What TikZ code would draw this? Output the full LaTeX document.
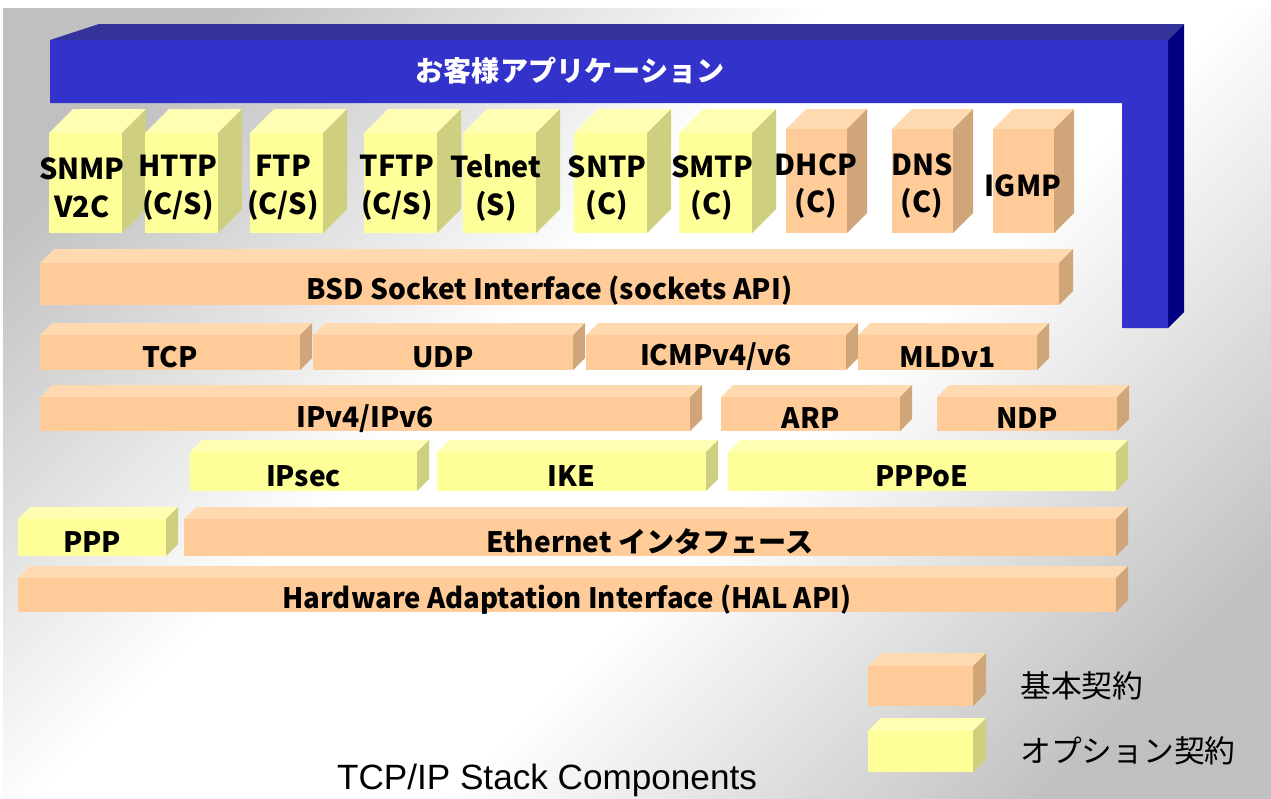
\documentclass[tikz,border=0pt]{standalone}
\usepackage{fontspec}
\setmainfont{Noto Sans CJK JP}
\newfontfamily\captionfont{Liberation Sans}
\usepackage{tikz}

\definecolor{basefront}{HTML}{FFCC99}
\definecolor{basetop}{HTML}{FFD9B0}
\definecolor{baseside}{HTML}{D1A57A}
\definecolor{optfront}{HTML}{FFFF99}
\definecolor{opttop}{HTML}{FFFFB3}
\definecolor{optside}{HTML}{CFCF80}
\definecolor{appfront}{HTML}{3333CC}
\definecolor{apptop}{HTML}{333399}
\definecolor{appside}{HTML}{000080}
\definecolor{bgedge}{HTML}{C0C0C0}

\pgfdeclareverticalshading{bgfade}{100bp}{%
  color(0bp)=(bgedge); color(22bp)=(bgedge); color(43bp)=(white);
  color(57bp)=(white); color(78bp)=(bgedge); color(100bp)=(bgedge)}

\tikzset{%
  basic front/.style={fill=basefront},
  basic top/.style={fill=basetop},
  basic side/.style={fill=baseside},
  opt front/.style={fill=optfront},
  opt top/.style={fill=opttop},
  opt side/.style={fill=optside},
  app front/.style={fill=appfront},
  app top/.style={fill=apptop},
  app side/.style={fill=appside},
  layer label/.style={
    inner sep=0pt,
    yshift=-2.5pt,
    font=\bfseries\fontsize{16}{19}\selectfont
  },
  proto label/.style={
    inner sep=0pt,
    align=center,
    font=\bfseries\fontsize{16.4}{21.5}\selectfont
  },
  app label/.style={
    inner sep=0pt,
    text=white,
    font=\bfseries\fontsize{16}{19}\selectfont
  },
  key label/.style={
    inner sep=0pt,
    anchor=west,
    font=\fontsize{17.5}{20}\selectfont
  },
}

% box with front, top and right face; #2 is the front centre
\newcommand{\stackbox}[7]{%
  \fill[#1 top] (#3,#4) -- ++(#7,-#7) -- ++(#5-#3,0) -- (#5,#4) -- cycle;
  \fill[#1 side] (#5,#4) -- ++(#7,-#7) -- ++(0,#6-#4) -- (#5,#6) -- cycle;
  \fill[#1 front] (#3,#4) rectangle (#5,#6);
  \coordinate (#2) at ({(#3+#5)/2},{(#4+#6)/2});
}

\begin{document}
\begin{tikzpicture}[x=0.02cm, y=-0.02cm]
        \useasboundingbox (0,0) rectangle (1271,798);
        \shade[shading=bgfade, shading angle=45] (3,8) rectangle (1271,798);

        %%%%%%%%%%%%%%%%%%%%%%%%%%%%%%%%%%%%%%%%%%%%
        % Customer application
        %%%%%%%%%%%%%%%%%%%%%%%%%%%%%%%%%%%%%%%%%%%%
        \fill[app top] (50,40) -- (99,24) -- (1184,24) -- (1168,40) -- cycle;
        \fill[app side] (1168,40) -- (1184,24) -- (1184,312) -- (1168,328) -- cycle;
        \fill[app front] (50,40) -- (1168,40) -- (1168,328) -- (1122,328)
            -- (1122,103) -- (50,103) -- cycle;
        \node[app label] (app) at (570,71) {お客様アプリケーション};

        %%%%%%%%%%%%%%%%%%%%%%%%%%%%%%%%%%%%%%%%%%%%
        % Protocol boxes
        %%%%%%%%%%%%%%%%%%%%%%%%%%%%%%%%%%%%%%%%%%%%

        % Option
        \foreach \n/\a/\t in {snmp/49/{SNMP\\V2C}, http/145/{HTTP\\(C/S)},
                ftp/250/{FTP\\(C/S)}, tftp/364/{TFTP\\(C/S)}, telnet/463/{Telnet\\(S)},
                sntp/574/{SNTP\\(C)}, smtp/679/{SMTP\\(C)}}
        {
            \stackbox{opt}{\n}{\a}{133}{\a+73}{233}{24}
            \node[proto label] (\n-text) at ({\a+33},188) {\t};
        }

        % Basic
        \foreach \n/\a/\t in {dhcp/786/{DHCP\\(C)}, dns/892/{DNS\\(C)}, igmp/993/{IGMP}}
        {
            \stackbox{basic}{\n}{\a}{129}{\a+61}{233}{20}
            \node[proto label] (\n-text) at ({\a+30},186) {\t};
        }

        %%%%%%%%%%%%%%%%%%%%%%%%%%%%%%%%%%%%%%%%%%%%
        % Layers
        %%%%%%%%%%%%%%%%%%%%%%%%%%%%%%%%%%%%%%%%%%%%

        % Socket interface
        \stackbox{basic}{bsd}{40}{263}{1059}{305}{14}
        \node[layer label, yshift=-1pt] (bsd-text) at (bsd) {BSD Socket Interface (sockets API)};

        % Transport
        \foreach \n/\a/\b/\t in {tcp/40/300/TCP, udp/313/573/UDP,
                icmp/586/846/{ICMPv4/v6}, mld/858/1037/MLDv1}
        {
            \stackbox{basic}{\n}{\a}{335}{\b}{370}{12}
            \node[layer label] (\n-text) at (\n) {\t};
        }

        % Network
        \foreach \n/\a/\b/\t in {ip/40/690/{IPv4/IPv6}, arp/721/900/ARP, ndp/937/1117/NDP}
        {
            \stackbox{basic}{\n}{\a}{397}{\b}{431}{12}
            \node[layer label] (\n-text) at (\n) {\t};
        }

        % Option layer
        \foreach \n/\a/\b/\t in {ipsec/190/417/IPsec, ike/437/706/IKE, pppoe/728/1116/PPPoE}
        {
            \stackbox{opt}{\n}{\a}{452}{\b}{491}{12}
            \node[layer label] (\n-text) at (\n) {\t};
        }

        % Link
        \stackbox{opt}{ppp}{18}{519}{166}{556}{12}
        \node[layer label] (ppp-text) at (ppp) {PPP};
        \stackbox{basic}{eth}{184}{519}{1116}{556}{12}
        \node[layer label] (eth-text) at (eth) {Ethernet インタフェース};

        % Hardware
        \stackbox{basic}{hal}{18}{578}{1116}{612}{12}
        \node[layer label, xscale=0.98] (hal-text) at (hal) {Hardware Adaptation Interface (HAL API)};

        %%%%%%%%%%%%%%%%%%%%%%%%%%%%%%%%%%%%%%%%%%%%
        % Key
        %%%%%%%%%%%%%%%%%%%%%%%%%%%%%%%%%%%%%%%%%%%%
        \stackbox{basic}{key-basic}{868}{666}{973}{706}{13}
        \stackbox{opt}{key-opt}{868}{731}{973}{772}{13}
        \node[key label] (key-basic-text) at (1020,686) {基本契約};
        \node[key label] (key-opt-text) at (1020,751) {オプション契約};

        \node[font=\captionfont\fontsize{20}{24}\selectfont, inner sep=0pt]
            (caption) at (547,780) {TCP/IP Stack Components};
\end{tikzpicture}
\end{document}
